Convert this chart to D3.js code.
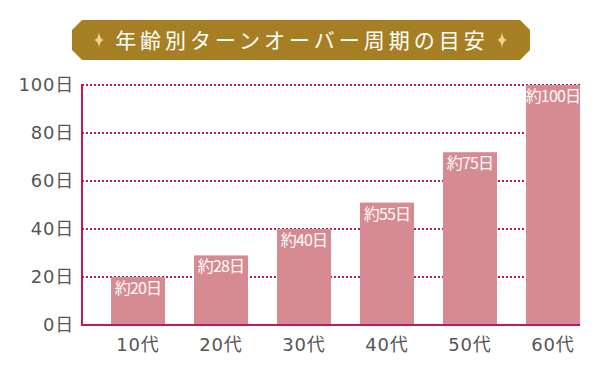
<!DOCTYPE html>
<html>
<head>
<meta charset="utf-8">
<script src="https://cdn.jsdelivr.net/npm/d3@7"></script>
<style>
  body { margin: 0; background: #fff; }
  text { font-family: "Noto Sans CJK JP", sans-serif; }
  .tick text { font-family: "DejaVu Sans", "Noto Sans CJK JP", sans-serif; }
</style>
</head>
<body>
<div id="chart"></div>
<script>
var title = "年齢別ターンオーバー周期の目安";
var ages = ["10代", "20代", "30代", "40代", "50代", "60代"];
var days = [20, 29, 40, 51, 72, 100];
var labels = ["約20日", "約28日", "約40日", "約55日", "約75日", "約100日"];
var yTicks = [0, 20, 40, 60, 80, 100];

var svg = d3.select("#chart").append("svg")
    .attr("width", 600)
    .attr("height", 377);

var x = d3.scaleBand()
    .domain(ages)
    .range([82, 580])
    .paddingInner(29 / 83)
    .paddingOuter(29 / 166)
    .align(1);

var y = d3.scaleLinear()
    .domain([0, 100])
    .range([325, 85]);

// title banner
var bx0 = 72, bx1 = 530, by0 = 20, by1 = 60, c = 10;
svg.append("path")
    .attr("d", "M" + (bx0 + c) + "," + by0 + "L" + (bx1 - c) + "," + by0 +
        "L" + bx1 + "," + (by0 + c) + "L" + bx1 + "," + (by1 - c) +
        "L" + (bx1 - c) + "," + by1 + "L" + (bx0 + c) + "," + by1 +
        "L" + bx0 + "," + (by1 - c) + "L" + bx0 + "," + (by0 + c) + "Z")
    .attr("fill", "#a67f25");

svg.append("text")
    .attr("x", 302)
    .attr("y", 48)
    .attr("text-anchor", "middle")
    .attr("fill", "#fff")
    .style("font-size", "21px")
    .style("letter-spacing", "4px")
    .text(title);

function sparkle(cx, cy) {
    var r = 8, w = 2.5;
    svg.append("path")
        .attr("d", "M" + cx + "," + (cy - r) + "Q" + (cx + w * 0.3) + "," + (cy - w * 0.3) + " " + (cx + w * 2) + "," + cy +
            "Q" + (cx + w * 0.3) + "," + (cy + w * 0.3) + " " + cx + "," + (cy + r) +
            "Q" + (cx - w * 0.3) + "," + (cy + w * 0.3) + " " + (cx - w * 2) + "," + cy +
            "Q" + (cx - w * 0.3) + "," + (cy - w * 0.3) + " " + cx + "," + (cy - r) + "Z")
        .attr("fill", "#f1d48a");
}
sparkle(99, 40);
sparkle(502, 40);

// gridlines
svg.selectAll(".grid")
    .data(yTicks.filter(function(d) { return d > 0; }))
    .enter().append("line")
    .attr("class", "grid")
    .attr("x1", 82)
    .attr("x2", 580)
    .attr("y1", function(d) { return y(d); })
    .attr("y2", function(d) { return y(d); })
    .attr("stroke", "#c2185b")
    .attr("stroke-width", 2)
    .attr("stroke-dasharray", "2,2");

// bars
svg.selectAll(".bar")
    .data(days)
    .enter().append("rect")
    .attr("class", "bar")
    .attr("x", function(d, i) { return x(ages[i]); })
    .attr("width", x.bandwidth())
    .attr("y", function(d) { return y(d); })
    .attr("height", function(d) { return y(0) - y(d); })
    .attr("fill", "#d68a91");

svg.selectAll(".lbl")
    .data(days)
    .enter().append("text")
    .attr("class", "lbl")
    .attr("x", function(d, i) { return x(ages[i]) + x.bandwidth() / 2; })
    .attr("y", function(d) { return y(d) + 17; })
    .attr("text-anchor", "middle")
    .attr("fill", "#fff")
    .style("font-size", "16px")
    .style("letter-spacing", "-0.8px")
    .text(function(d, i) { return labels[i]; });

// axes
var yAxis = svg.append("g")
    .attr("transform", "translate(82,0)")
    .call(d3.axisLeft(y).tickValues(yTicks).tickSize(0).tickPadding(8)
        .tickFormat(function(d) { return d + "日"; }));
yAxis.select(".domain").remove();
yAxis.selectAll("text")
    .attr("fill", "#555")
    .style("font-size", "18px")
    .style("letter-spacing", "0.8px");

var xAxis = svg.append("g")
    .attr("transform", "translate(0,325)")
    .call(d3.axisBottom(x).tickSize(0).tickPadding(13));
xAxis.select(".domain").remove();
xAxis.selectAll("text")
    .attr("fill", "#555")
    .style("font-size", "18px")
    .style("letter-spacing", "0.8px");

svg.append("line")
    .attr("x1", 82).attr("x2", 82)
    .attr("y1", 84).attr("y2", 326)
    .attr("stroke", "#c2185b")
    .attr("stroke-width", 2);
svg.append("line")
    .attr("x1", 81).attr("x2", 580)
    .attr("y1", 325).attr("y2", 325)
    .attr("stroke", "#c2185b")
    .attr("stroke-width", 2);
</script>
</body>
</html>
